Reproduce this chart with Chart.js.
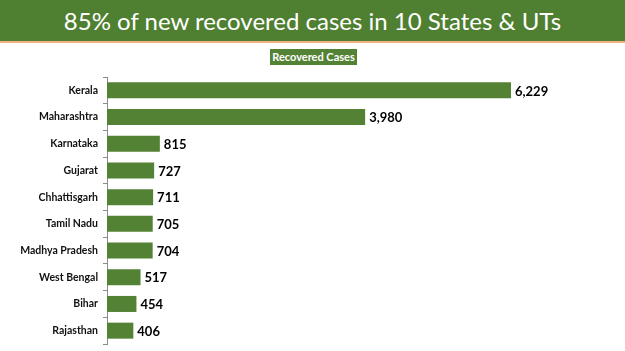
<!DOCTYPE html>
<html>
<head>
<meta charset="utf-8">
<script src="https://cdn.jsdelivr.net/npm/chart.js@4.4.1/dist/chart.umd.min.js"></script>
<style>
  html, body { margin: 0; padding: 0; background: #fff; }
  #wrap { position: relative; width: 625px; height: 351px; overflow: hidden; }
  #banner {
    position: absolute; left: 0; top: 0; width: 625px; height: 41px;
    background: #4f7f31; border-bottom: 2px solid #f4b183;
    color: #fff; font-family: Lato, "Open Sans", sans-serif; font-size: 24px;
    text-align: center; line-height: 42px;
  }
  #legendBox {
    position: absolute; left: 270px; top: 49px; width: 87px; height: 16px;
    background: #548235; color: #fff; font-family: Lato, sans-serif;
    font-weight: bold; font-size: 11px; line-height: 16px; text-align: center;
  }
  canvas { position: absolute; left: 0; top: 0; }
</style>
</head>
<body>
<div id="wrap">
  <canvas id="chart-area" width="625" height="351"></canvas>
  <div id="banner">85% of new recovered cases in 10 States &amp; UTs</div>
  <div id="legendBox">Recovered Cases</div>
</div>
<script>
var states = ["Kerala", "Maharashtra", "Karnataka", "Gujarat", "Chhattisgarh",
  "Tamil Nadu", "Madhya Pradesh", "West Bengal", "Bihar", "Rajasthan"];
var recovered = [6229, 3980, 815, 727, 711, 705, 704, 517, 454, 406];

// draws the numbers at the end of each bar
var valueLabels = {
  id: "valueLabels",
  afterDatasetsDraw: function (chart) {
    var ctx = chart.ctx;
    var meta = chart.getDatasetMeta(0);
    ctx.save();
    ctx.font = "bold 13px Lato, sans-serif";
    ctx.fillStyle = "#000";
    ctx.textAlign = "left";
    ctx.textBaseline = "middle";
    meta.data.forEach(function (bar, i) {
      ctx.fillText(recovered[i].toLocaleString("en-US"), bar.x + 4, bar.y + 1);
    });
    ctx.restore();
  },
};

var config = {
  type: "bar",
  data: {
    labels: states,
    datasets: [
      {
        label: "Recovered Cases",
        data: recovered,
        backgroundColor: "#548235",
        categoryPercentage: 1,
        barPercentage: 0.6,
      },
    ],
  },
  options: {
    indexAxis: "y",
    responsive: false,
    animation: false,
    layout: { padding: { top: 77, bottom: 7, left: 0, right: 64 } },
    plugins: {
      legend: { display: false },
      tooltip: { enabled: false },
    },
    scales: {
      x: { display: false, min: 0, max: 7000 },
      y: {
        afterFit: function (scale) {
          scale.width = 107;
          scale.paddingTop = 0;
          scale.paddingBottom = 0;
        },
        grid: {
          offset: true,
          drawOnChartArea: false,
          drawTicks: true,
          tickLength: 4,
          color: "#8c8c8c",
        },
        border: { display: true, color: "#8c8c8c" },
        ticks: {
          padding: 5,
          color: "#111",
          font: { family: "Lato, sans-serif", size: 10.5, weight: "bold" },
        },
      },
    },
  },
  plugins: [valueLabels],
};

var ctx = document.getElementById("chart-area").getContext("2d");
window.chart = new Chart(ctx, config);
</script>
</body>
</html>
